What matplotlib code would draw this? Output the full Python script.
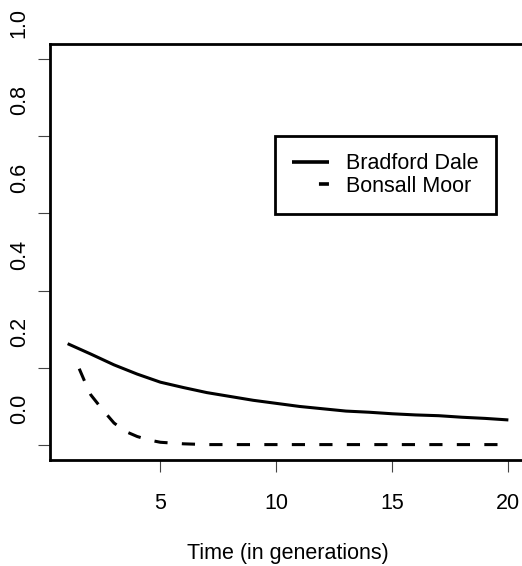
import matplotlib
matplotlib.use("Agg")
import matplotlib.pyplot as plt
from matplotlib.lines import Line2D
from matplotlib.transforms import ScaledTranslation

plt.rcParams['font.family'] = ['Liberation Sans', 'DejaVu Sans']
plt.rcParams['lines.scale_dashes'] = False

# Data
time_bradford = [1, 2, 3, 4, 5, 6, 7, 8, 9, 10, 11, 12, 13, 14, 15, 16, 17, 18, 19, 20]
bradford_dale = [0.262, 0.235, 0.207, 0.183, 0.162, 0.148, 0.135, 0.125, 0.115, 0.107,
                 0.099, 0.093, 0.087, 0.084, 0.080, 0.077, 0.075, 0.071, 0.068, 0.064]
time_bonsall = [1.5, 1.75, 2, 2.5, 3, 3.5, 4, 4.5, 5, 6, 7, 8, 9, 10, 11, 12, 13, 14, 15, 16,
                17, 18, 19, 20]
bonsall_moor = [0.197, 0.162, 0.129, 0.091, 0.056, 0.034, 0.021, 0.012, 0.006, 0.002, 0.0, 0.0,
                0.0, 0.0, 0.0, 0.0, 0.0, 0.0, 0.0, 0.0, 0.0, 0.0, 0.0, 0.0]
x_ticks = [5, 10, 15, 20]
y_ticks = [0.0, 0.2, 0.4, 0.6, 0.8, 1.0]
y_tick_labels = ['0.0', '0.2', '0.4', '0.6', '0.8', '1.0']
series_names = ['Bradford Dale', 'Bonsall Moor']

W, H = 522, 566
fig = plt.figure(figsize=(W / 100, H / 100), dpi=100)
ax = fig.add_axes([50 / W, (H - 460) / H, 476 / W, 416 / H])

FS = 15.5
ax.plot(time_bradford, bradford_dale, color='black', lw=2.2, solid_capstyle='butt',
        solid_joinstyle='round')
ax.plot(time_bonsall, bonsall_moor, color='black', lw=2.2, linestyle=(0, (9.5, 10.3)),
        dash_capstyle='butt', dash_joinstyle='round')

ax.set_xlim(0.24, 20.76)
ax.set_ylim(-0.04, 1.04)
ax.set_xticks(x_ticks)
ax.set_xticklabels([str(v) for v in x_ticks])
ax.set_yticks(y_ticks)
ax.set_yticklabels(y_tick_labels)

for s in ax.spines.values():
    s.set_linewidth(2.0)
    s.set_color('black')

ax.tick_params(axis='both', direction='out', length=8.6, width=0.8, color='#444444',
               labelsize=FS)
ax.tick_params(axis='x', pad=15.5)
ax.tick_params(axis='y', pad=6, labelrotation=90)
offset = ScaledTranslation(0, 0.36, fig.dpi_scale_trans)
for lab in ax.get_yticklabels():
    lab.set_verticalalignment('center')
    lab.set_transform(lab.get_transform() + offset)

ax.set_xlabel('Time (in generations)', fontsize=FS, labelpad=20.5)

handles = [
    Line2D([], [], color='black', lw=2.6, solid_capstyle='butt'),
    Line2D([], [], color='black', lw=2.6, linestyle=(7.2, (7.2, 19.4)), dash_capstyle='butt'),
]
leg = fig.legend(handles, series_names, loc='upper left',
                 bbox_to_anchor=(275 / W, 1 - 136 / H), borderaxespad=0,
                 fontsize=FS, frameon=True, fancybox=False, framealpha=1,
                 edgecolor='black', borderpad=0.8, handlelength=1.72,
                 handletextpad=0.78, labelspacing=0.08)
leg.get_frame().set_linewidth(2.0)

fig.savefig('out.png', dpi=100)
